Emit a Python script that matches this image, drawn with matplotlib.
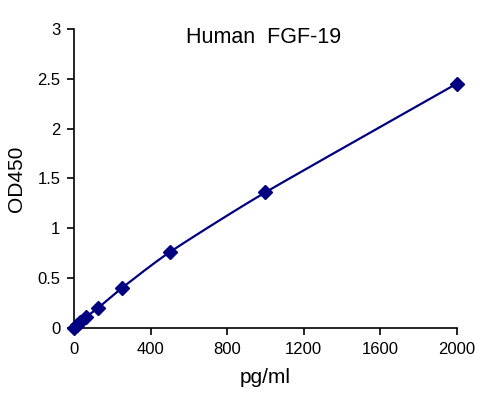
import numpy as np
import matplotlib
matplotlib.use("Agg")
import matplotlib.pyplot as plt

plt.rcParams['font.family'] = ['Liberation Sans', 'DejaVu Sans']

conc = [0, 15.6, 31.25, 62.5, 125, 250, 500, 1000, 2000]
od = [0.0, 0.03, 0.06, 0.11, 0.20, 0.40, 0.76, 1.36, 2.45]
xticks = [0, 400, 800, 1200, 1600, 2000]
yticks = [0, 0.5, 1, 1.5, 2, 2.5, 3]
ytick_labels = ['0', '0.5', '1', '1.5', '2', '2.5', '3']

color = '#000080'

# smooth line through the points (Catmull-Rom style, like a spreadsheet's smoothed line)
x = np.array(conc, dtype=float)
y = np.array(od, dtype=float)
xs, ys = [], []
n = len(x)
for i in range(n - 1):
    p0 = (x[i - 1], y[i - 1]) if i > 0 else (x[i], y[i])
    p1 = (x[i], y[i])
    p2 = (x[i + 1], y[i + 1])
    p3 = (x[i + 2], y[i + 2]) if i + 2 < n else (x[i + 1], y[i + 1])
    t = np.linspace(0, 1, 30)
    for k, (a0, a1, a2, a3) in enumerate([(p0[0], p1[0], p2[0], p3[0]), (p0[1], p1[1], p2[1], p3[1])]):
        m1 = (a2 - a0) / 2 / 1.5
        m2 = (a3 - a1) / 2 / 1.5
        h00 = 2*t**3 - 3*t**2 + 1
        h10 = t**3 - 2*t**2 + t
        h01 = -2*t**3 + 3*t**2
        h11 = t**3 - t**2
        v = h00*a1 + h10*m1 + h01*a2 + h11*m2
        (xs if k == 0 else ys).extend(v)

fig = plt.figure(figsize=(4.88, 3.95), dpi=100)
ax = fig.add_axes([0.152, 0.170, 0.784, 0.757])
ax.plot(xs, ys, color=color, lw=1.6, zorder=2)
ax.plot(conc, od, linestyle='none', marker='D', markersize=7, color=color, zorder=3, clip_on=False)

ax.set_xlim(0, 2000)
ax.set_ylim(0, 3)
ax.set_xticks(xticks)
ax.set_yticks(yticks)
ax.set_yticklabels(ytick_labels)
for s in ['top', 'right']:
    ax.spines[s].set_visible(False)
for s in ['left', 'bottom']:
    ax.spines[s].set_linewidth(1.2)
ax.tick_params(direction='out', length=5, width=1.2, labelsize=12, pad=5)

ax.set_xlabel('pg/ml', fontsize=15, labelpad=8)
ax.set_ylabel('OD450', fontsize=15, labelpad=8)
fig.text(0.541, 0.905, 'Human  FGF-19', fontsize=15.5, ha='center', va='center')

fig.savefig('out.png', dpi=100)
